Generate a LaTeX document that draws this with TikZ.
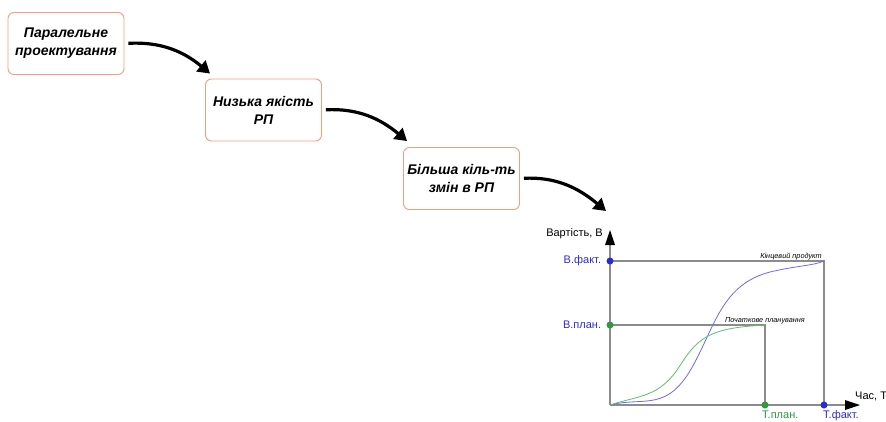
\documentclass[tikz,border=0pt]{standalone}
\usepackage{fontspec}
\setmainfont{Liberation Sans}
\usetikzlibrary{arrows.meta, positioning, calc}

\definecolor{boxline}{HTML}{F59C80}
\definecolor{factblue}{HTML}{2B2BD6}
\definecolor{planblue}{HTML}{6A6AF5}
\definecolor{plangreen}{HTML}{2E9A3E}
\definecolor{lightgreen}{HTML}{5DBE6C}
\definecolor{axisgray}{HTML}{8C8C8C}

\begin{document}
\begin{tikzpicture}
[
    x=1pt, y=-1pt,
    box/.style={
        draw=boxline,
        line width=0.9pt,
        rectangle,
        rounded corners=6pt,
        minimum width=116pt,
        minimum height=62pt,
        align=center,
        font=\fontsize{14}{18}\selectfont\bfseries\itshape,
        inner sep=1pt,
    },
    arrow/.style={-{Triangle[length=12pt,width=14pt]}, line width=3.2pt},
    axis/.style={draw=axisgray, line width=1.1pt},
    dot/.style={circle, inner sep=0pt, minimum size=7pt},
    lbl/.style={font=\fontsize{11}{13}\selectfont, inner sep=0pt},
    tiny/.style={font=\fontsize{7.3}{8}\selectfont\itshape, inner sep=1pt},
]
\useasboundingbox (0,0) rectangle (886,421);

% Define the nodes
\node[box] (box1) at (66,43.5) {Паралельне\\проектування};
\node[box] (box2) at (263.5,110) {Низька якість\\РП};
\node[box] (box3) at (461.5,178.5) {Більша кіль-ть\\змін в РП};

% Chart corners
\coordinate (orig) at (610,405);
\coordinate (ytop) at (610,230);
\coordinate (xend) at (860,405);
\coordinate (chart) at (606,211);

% Curved arrows between the boxes
\draw[arrow, shorten <=4pt] (box1.east) to[out=3,in=140] ($(box2.north west)+(5,-5)$);
\draw[arrow, shorten <=4pt] (box2.east) to[out=3,in=140] ($(box3.north west)+(4,-6)$);
\draw[arrow, shorten <=4pt] (box3.east) to[out=3,in=140] (chart);

% Axes
\draw[axis] (orig) -- (610,240);
\draw[axis] (orig) -- (850,405);
\fill (ytop) -- (605,245) -- (615,245) -- cycle;
\fill (xend) -- (845,400) -- (845,410) -- cycle;
\node[lbl, anchor=south east] (ylab) at (603,239) {Вартість, В};
\node[lbl, anchor=south west] (xlab) at (855,401) {Час, Т};

% Plan and fact frames
\draw[axis] (610,261) -- (824,261) -- (824,405);
\draw[axis] (610,325) -- (765,325) -- (765,405);

% Curves
\draw[planblue, line width=0.8pt] (orig) .. controls (645,396) and (668,414) .. (695,362)
    .. controls (716,322) and (724,284) .. (770,272) .. controls (800,265) and (812,266) .. (824,261);
\draw[lightgreen, line width=0.8pt] (orig) .. controls (640,395) and (660,398) .. (681,364)
    .. controls (700,334) and (715,328) .. (765,325);

% Dots on axes
\node[dot, fill=factblue] (bfact) at (610,261) {};
\node[dot, fill=plangreen] (bplan) at (610,325) {};
\node[dot, fill=plangreen] (tplan) at (765,405) {};
\node[dot, fill=factblue] (tfact) at (824,405) {};

% Axis labels
\node[lbl, text=factblue, anchor=east] at ($(bfact.west)+(-5,0)$) {В.факт.};
\node[lbl, text=factblue, anchor=east] at ($(bplan.west)+(-5,0)$) {В.план.};
\node[lbl, text=plangreen, anchor=base west] at (762,418) {Т.план.};
\node[lbl, text=factblue, anchor=base west] at (823,418) {Т.факт.};

% Curve captions
\node[tiny, anchor=south east] at (823,261) {Кінцевий продукт};
\node[tiny, anchor=south east] at (806,325) {Початкове планування};

\end{tikzpicture}
\end{document}
